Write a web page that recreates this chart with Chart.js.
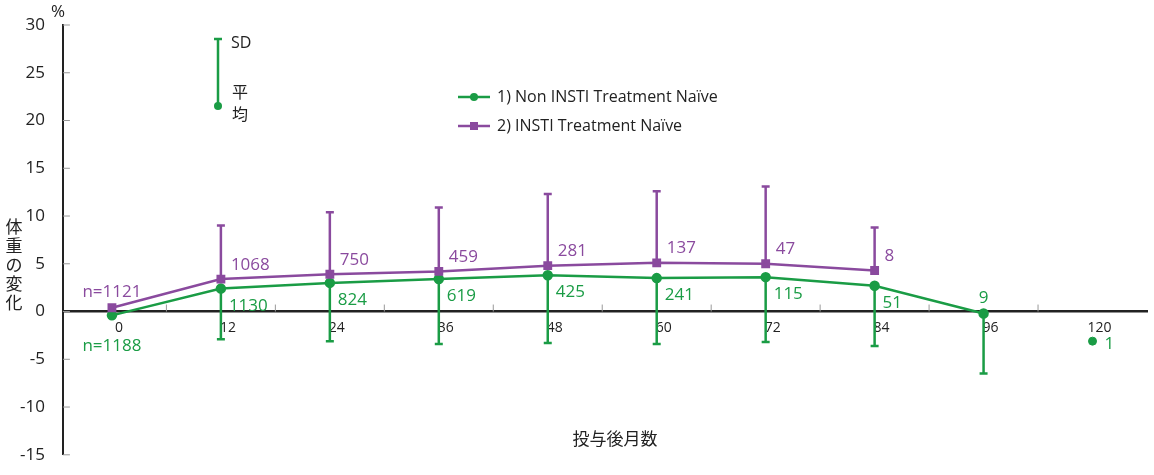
<!DOCTYPE html>
<html>
<head>
<meta charset="utf-8">
<script src="https://cdn.jsdelivr.net/npm/chart.js@4/dist/chart.umd.min.js"></script>
<style>
body { margin: 0; background: #fff; }
#wrap { width: 1154px; height: 475px; }
</style>
</head>
<body>
<div id="wrap"><canvas id="grafico"></canvas></div>
<script>
const meses = ['0', '12', '24', '36', '48', '60', '72', '84', '96', '120'];
const mediaNonInsti = [-0.4, 2.4, 3.0, 3.4, 3.8, 3.5, 3.6, 2.7, -0.2];
const sdBaixoNonInsti = [null, -2.9, -3.1, -3.4, -3.3, -3.4, -3.2, -3.6, -6.5];
const nNonInsti = ['n=1188', '1130', '824', '619', '425', '241', '115', '51', '9', '1'];
const media120 = -3.1;
const mediaInsti = [0.4, 3.4, 3.9, 4.2, 4.8, 5.1, 5.0, 4.3];
const sdAltoInsti = [null, 9.0, 10.4, 10.9, 12.3, 12.6, 13.1, 8.8];
const nInsti = ['n=1121', '1068', '750', '459', '281', '137', '47', '8'];
const yTicks = [30, 25, 20, 15, 10, 5, 0, -5, -10, -15];

const verde = '#1a9c45';
const roxo = '#8a4a9e';
const fonte = '"Open Sans", "Noto Sans CJK JP", sans-serif';

const pontos = (arr) => arr.map((v, i) => ({ x: i, y: v }));

const desenhaExtras = {
    id: 'extras',
    afterDatasetsDraw(chart) {
        const ctx = chart.ctx;
        const x = chart.scales.x, y = chart.scales.y;
        ctx.save();
        // ticks at mid positions
        ctx.strokeStyle = '#999';
        ctx.lineWidth = 1;
        for (let i = 0; i < 9; i++) {
            const px = x.getPixelForValue(i + 0.5);
            ctx.beginPath();
            ctx.moveTo(px, y.getPixelForValue(0));
            ctx.lineTo(px, y.getPixelForValue(0) - 7);
            ctx.stroke();
        }
        yTicks.forEach(v => {
            const py = y.getPixelForValue(v);
            ctx.beginPath();
            ctx.moveTo(x.left, py);
            ctx.lineTo(x.left + 7, py);
            ctx.stroke();
        });
        // SD bars
        const barra = (i, v, m, cor) => {
            const px = x.getPixelForValue(i);
            ctx.strokeStyle = cor;
            ctx.lineWidth = 2.5;
            ctx.beginPath();
            ctx.moveTo(px, y.getPixelForValue(m));
            ctx.lineTo(px, y.getPixelForValue(v));
            ctx.moveTo(px - 4, y.getPixelForValue(v));
            ctx.lineTo(px + 4, y.getPixelForValue(v));
            ctx.stroke();
        };
        sdBaixoNonInsti.forEach((v, i) => { if (v !== null) barra(i, v, mediaNonInsti[i], verde); });
        sdAltoInsti.forEach((v, i) => { if (v !== null) barra(i, v, mediaInsti[i], roxo); });
        // n labels
        ctx.font = '17px ' + fonte;
        ctx.textBaseline = 'middle';
        ctx.fillStyle = verde;
        nNonInsti.forEach((t, i) => {
            let px = x.getPixelForValue(i), py;
            if (i === 0) { ctx.textAlign = 'center'; py = y.getPixelForValue(-3.6); }
            else if (i === 8) { ctx.textAlign = 'center'; py = y.getPixelForValue(1.4); }
            else if (i === 9) { ctx.textAlign = 'left'; px += 12; py = y.getPixelForValue(-3.4); }
            else { ctx.textAlign = 'left'; px += 8; py = y.getPixelForValue(mediaNonInsti[i] - 1.8); }
            ctx.fillText(t, px, py);
        });
        ctx.fillStyle = roxo;
        nInsti.forEach((t, i) => {
            let px = x.getPixelForValue(i), py;
            if (i === 0) { ctx.textAlign = 'center'; py = y.getPixelForValue(2.0); }
            else { ctx.textAlign = 'left'; px += 10; py = y.getPixelForValue(mediaInsti[i] + 1.5); }
            ctx.fillText(t, px, py);
        });
        // SD key
        ctx.strokeStyle = verde;
        ctx.lineWidth = 2.5;
        ctx.beginPath();
        ctx.moveTo(214, 39); ctx.lineTo(222, 39);
        ctx.moveTo(218, 39); ctx.lineTo(218, 106);
        ctx.stroke();
        ctx.fillStyle = verde;
        ctx.beginPath(); ctx.arc(218, 106, 4, 0, Math.PI * 2); ctx.fill();
        ctx.fillStyle = '#222';
        ctx.textAlign = 'left';
        ctx.font = '16px ' + fonte;
        ctx.fillText('SD', 231, 43);
        ctx.fillText('平', 232, 93);
        ctx.fillText('均', 232, 115);
        // legend
        ctx.lineWidth = 2.5;
        ctx.strokeStyle = verde;
        ctx.beginPath(); ctx.moveTo(458, 97); ctx.lineTo(490, 97); ctx.stroke();
        ctx.fillStyle = verde;
        ctx.beginPath(); ctx.arc(474, 97, 4, 0, Math.PI * 2); ctx.fill();
        ctx.strokeStyle = roxo;
        ctx.beginPath(); ctx.moveTo(458, 126); ctx.lineTo(490, 126); ctx.stroke();
        ctx.fillStyle = roxo;
        ctx.fillRect(470, 122, 8, 8);
        ctx.fillStyle = '#222';
        ctx.fillText('1) Non INSTI Treatment Naïve', 497, 97);
        ctx.fillText('2) INSTI Treatment Naïve', 497, 126);
        // axis titles
        ctx.font = '17px ' + fonte;
        ctx.textAlign = 'center';
        ctx.fillText('%', 58, 12);
        ctx.fillText('投与後月数', 615, 440);
        ['体', '重', 'の', '変', '化'].forEach((c, k) => ctx.fillText(c, 14, 228 + k * 19));
        ctx.restore();
    }
};

new Chart(document.getElementById('grafico'), {
    type: 'line',
    data: {
        datasets: [
            {
                label: '2) INSTI Treatment Naïve',
                data: pontos(mediaInsti),
                borderColor: roxo, backgroundColor: roxo,
                borderWidth: 2.5, pointStyle: 'rect', pointRadius: 4.5
            },
            {
                label: '1) Non INSTI Treatment Naïve',
                data: pontos(mediaNonInsti),
                borderColor: verde, backgroundColor: verde,
                borderWidth: 2.5, pointRadius: 4
            },
            {
                label: '120',
                data: [{ x: 9, y: media120 }],
                borderColor: verde, backgroundColor: verde,
                showLine: false, pointRadius: 4
            }
        ]
    },
    plugins: [desenhaExtras],
    options: {
        responsive: true,
        maintainAspectRatio: false,
        animation: false,
        layout: { padding: { left: 10, top: 25, right: 1, bottom: 0 } },
        plugins: { legend: { display: false }, tooltip: { enabled: false } },
        scales: {
            x: {
                type: 'linear',
                position: { y: 0 },
                min: -0.45, max: 9.5,
                afterBuildTicks: (axis) => { axis.ticks = meses.map((m, i) => ({ value: i })); },
                ticks: {
                    callback: (v) => meses[v],
                    color: '#222', font: { size: 14, family: fonte },
                    labelOffset: 7, padding: 8, maxRotation: 0, autoSkip: false
                },
                grid: { display: false, drawTicks: false },
                border: { color: '#222', width: 2.5 }
            },
            y: {
                min: -15, max: 30,
                afterBuildTicks: (axis) => { axis.ticks = yTicks.map(v => ({ value: v })); },
                ticks: { color: '#222', font: { size: 17, family: fonte }, padding: 10 },
                grid: { display: false },
                border: { color: '#222', width: 2 }
            }
        }
    }
});
</script>
</body>
</html>
